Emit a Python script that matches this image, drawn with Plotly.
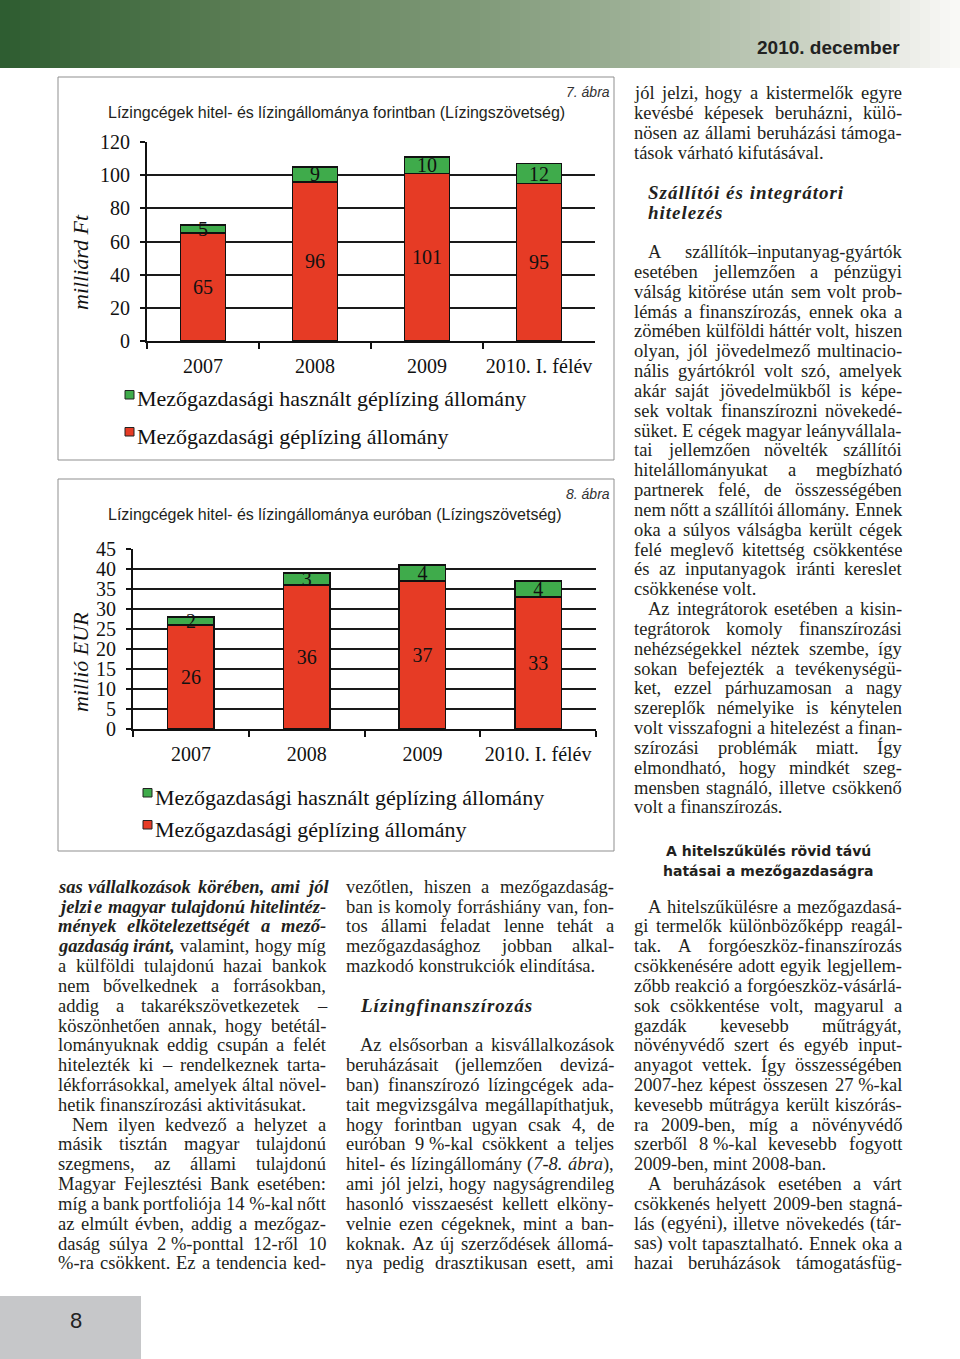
import re
import plotly.graph_objects as go

W, H = 960, 1359

# ---------------- data ----------------
categories = ["2007", "2008", "2009", "2010. I. félév"]
huf_leasing = [65, 96, 101, 95]
huf_used = [5, 9, 10, 12]
eur_leasing = [26, 36, 37, 33]
eur_used = [2, 3, 4, 4]
huf_ticks = [0, 20, 40, 60, 80, 100, 120]
eur_ticks = [0, 5, 10, 15, 20, 25, 30, 35, 40, 45]
name_used = "Mezőgazdasági használt géplízing állomány"
name_leasing = "Mezőgazdasági géplízing állomány"
title_huf = "Lízingcégek hitel- és lízingállománya forintban (Lízingszövetség)"
title_eur = "Lízingcégek hitel- és lízingállománya euróban (Lízingszövetség)"
unit_huf = "milliárd Ft"
unit_eur = "millió EUR"

RED = "#e63b25"
GREEN = "#3fab4b"
INK = "#231f20"
SERIF = "Liberation Serif"
SANS = "Liberation Sans"
FS = 18.5


def X(px):
    return px / W


def Y(py):
    return 1 - py / H


# ---------------- Times metrics (Liberation Serif is metric compatible) -----
def _tab(lower, upper=None):
    d = {}
    for ch, w in zip("abcdefghijklmnopqrstuvwxyz", lower):
        d[ch] = w
    if upper:
        for ch, w in zip("ABCDEFGHIJKLMNOPQRSTUVWXYZ", upper):
            d[ch] = w
    return d


UP = [722, 667, 667, 722, 611, 556, 722, 722, 333, 389, 722, 611, 889, 722, 722,
      556, 722, 667, 556, 611, 722, 722, 944, 722, 722, 611]
ROMAN = _tab([444, 500, 444, 500, 444, 333, 500, 500, 278, 278, 500, 278, 778, 500,
              500, 500, 500, 333, 389, 278, 500, 500, 722, 500, 500, 444], UP)
ITAL = _tab([500, 500, 444, 500, 444, 278, 500, 500, 278, 278, 444, 278, 722, 500,
             500, 500, 500, 389, 389, 278, 500, 444, 667, 444, 444, 389], UP)
BOLDI = _tab([500, 500, 444, 500, 444, 333, 500, 556, 278, 278, 500, 278, 778, 556,
              500, 500, 500, 389, 389, 278, 556, 444, 667, 500, 444, 389], UP)
PUNCT = {" ": 250, "\u00a0": 250, ",": 250, ".": 250, "-": 333, "–": 500,
         "(": 333, ")": 333, ":": 278, ";": 278, "%": 833, "!": 333, "?": 444}
ACC = str.maketrans("áéíóöőúüűÁÉÍÓÖŐÚÜŰ", "aeiooouuuAEIOOOUUU")


def text_width(word, size):
    style = BOLDI if "<b>" in word else (ITAL if "<i>" in word else ROMAN)
    plain = re.sub(r"<[^>]+>", "", word).translate(ACC)
    tot = 0
    for ch in plain:
        if ch.isdigit():
            tot += 500
        elif ch in PUNCT:
            tot += PUNCT[ch]
        else:
            tot += style.get(ch, 500)
    return tot * size / 1000


anns = []
shapes = []


def ann(text, x, y, size=FS, family=SERIF, color=INK, xanchor="left",
        yanchor="middle", angle=0):
    anns.append(dict(text=text, x=X(x), y=Y(y), xref="paper", yref="paper",
                     showarrow=False, xanchor=xanchor, yanchor=yanchor,
                     borderpad=0, borderwidth=0, textangle=angle,
                     font=dict(family=family, size=size, color=color)))


LINE0, LSTEP = 93.5, 19.83


def line_y(k):
    return LINE0 + k * LSTEP


def body_line(k, text, x0, x1, justify=True, indent=False):
    xs = x0 + (14 if indent else 0)
    y = line_y(k)
    words = text.split(" ")
    if not justify or len(words) == 1:
        ann(text, xs, y)
        return
    widths = [text_width(w, FS) for w in words]
    gap = (x1 - xs - sum(widths)) / (len(words) - 1)
    gap = max(gap, 3.0)
    x = xs
    for w, wd in zip(words, widths):
        ann(w, x, y)
        x += wd + gap


def BI(s):
    return " ".join("<b><i>%s</i></b>" % w for w in s.split(" "))


# ---------------- body text ----------------
NB = "\u00a0"
col_left = (58, 326)
col_mid = (346, 614)
col_right = (634, 902)

right_lines = [
    (0, "jól jelzi, hogy a kistermelők egyre", True, False),
    (1, "kevésbé képesek beruházni, külö-", True, False),
    (2, "nösen az állami beruházási támoga-", True, False),
    (3, "tások várható kifutásával.", False, False),
    (8, "A szállítók–inputanyag-gyártók", True, True),
    (9, "esetében jellemzően a pénzügyi", True, False),
    (10, "válság kitörése után sem volt prob-", True, False),
    (11, "lémás a finanszírozás, ennek oka a", True, False),
    (12, "zömében külföldi háttér volt, hiszen", True, False),
    (13, "olyan, jól jövedelmező multinacio-", True, False),
    (14, "nális gyártókról volt szó, amelyek", True, False),
    (15, "akár saját jövedelmükből is képe-", True, False),
    (16, "sek voltak finanszírozni növekedé-", True, False),
    (17, "süket. E cégek magyar leányvállala-", True, False),
    (18, "tai jellemzően növelték szállítói", True, False),
    (19, "hitelállományukat a megbízható", True, False),
    (20, "partnerek felé, de összességében", True, False),
    (21, "nem nőtt a szállítói állomány. Ennek", True, False),
    (22, "oka a súlyos válságba került cégek", True, False),
    (23, "felé meglevő kitettség csökkentése", True, False),
    (24, "és az inputanyagok iránti kereslet", True, False),
    (25, "csökkenése volt.", False, False),
    (26, "Az integrátorok esetében a kisin-", True, True),
    (27, "tegrátorok komoly finanszírozási", True, False),
    (28, "nehézségekkel néztek szembe, így", True, False),
    (29, "sokan befejezték a tevékenységü-", True, False),
    (30, "ket, ezzel párhuzamosan a nagy", True, False),
    (31, "szereplők némelyike is kénytelen", True, False),
    (32, "volt visszafogni a hitelezést a finan-", True, False),
    (33, "szírozási problémák miatt. Így", True, False),
    (34, "elmondható, hogy mindkét szeg-", True, False),
    (35, "mensben stagnáló, illetve csökkenő", True, False),
    (36, "volt a finanszírozás.", False, False),
    (41, "A hitelszűkülésre a mezőgazdasá-", True, True),
    (42, "gi termelők különbözőképp reagál-", True, False),
    (43, "tak. A forgóeszköz-finanszírozás", True, False),
    (44, "csökkenésére adott egyik legjellem-", True, False),
    (45, "zőbb reakció a forgóeszköz-vásárlá-", True, False),
    (46, "sok csökkentése volt, magyarul a", True, False),
    (47, "gazdák kevesebb műtrágyát,", True, False),
    (48, "növényvédő szert és egyéb input-", True, False),
    (49, "anyagot vettek. Így összességében", True, False),
    (50, "2007-hez képest összesen 27" + NB + "%-kal", True, False),
    (51, "kevesebb műtrágya került kiszórás-", True, False),
    (52, "ra 2009-ben, míg a növényvédő", True, False),
    (53, "szerből 8" + NB + "%-kal kevesebb fogyott", True, False),
    (54, "2009-ben, mint 2008-ban.", False, False),
    (55, "A beruházások esetében a várt", True, True),
    (56, "csökkenés helyett 2009-ben stagná-", True, False),
    (57, "lás (egyéni), illetve növekedés (tár-", True, False),
    (58, "sas) volt tapasztalható. Ennek oka a", True, False),
    (59, "hazai beruházások támogatásfüg-", True, False),
]

left_lines = [
    (40, BI("sas vállalkozások körében, ami jól"), True, False),
    (41, BI("jelzi e magyar tulajdonú hitelintéz-"), True, False),
    (42, BI("mények elkötelezettségét a mező-"), True, False),
    (43, BI("gazdaság iránt,") + " valamint, hogy míg", True, False),
    (44, "a külföldi tulajdonú hazai bankok", True, False),
    (45, "nem bővelkednek a forrásokban,", True, False),
    (46, "addig a takarékszövetkezetek –", True, False),
    (47, "köszönhetően annak, hogy betétál-", True, False),
    (48, "lományuknak eddig csupán a felét", True, False),
    (49, "hitelezték ki – rendelkeznek tarta-", True, False),
    (50, "lékforrásokkal, amelyek által növel-", True, False),
    (51, "hetik finanszírozási aktivitásukat.", False, False),
    (52, "Nem ilyen kedvező a helyzet a", True, True),
    (53, "másik tisztán magyar tulajdonú", True, False),
    (54, "szegmens, az állami tulajdonú", True, False),
    (55, "Magyar Fejlesztési Bank esetében:", True, False),
    (56, "míg a bank portfoliója 14" + NB + "%-kal nőtt", True, False),
    (57, "az elmúlt évben, addig a mezőgaz-", True, False),
    (58, "daság súlya 2" + NB + "%-ponttal 12-ről 10", True, False),
    (59, "%-ra csökkent. Ez a tendencia ked-", True, False),
]

mid_lines = [
    (40, "vezőtlen, hiszen a mezőgazdaság-", True, False),
    (41, "ban is komoly forráshiány van, fon-", True, False),
    (42, "tos állami feladat lenne tehát a", True, False),
    (43, "mezőgazdasághoz jobban alkal-", True, False),
    (44, "mazkodó konstrukciók elindítása.", False, False),
    (48, "Az elsősorban a kisvállalkozások", True, True),
    (49, "beruházásait (jellemzően devizá-", True, False),
    (50, "ban) finanszírozó lízingcégek ada-", True, False),
    (51, "tait megvizsgálva megállapíthatjuk,", True, False),
    (52, "hogy forintban ugyan csak 4, de", True, False),
    (53, "euróban 9" + NB + "%-kal csökkent a teljes", True, False),
    (54, "hitel- és lízingállomány (<i>7-8.</i> <i>ábra</i>),", True, False),
    (55, "ami jól jelzi, hogy nagyságrendileg", True, False),
    (56, "hasonló visszaesést kellett elköny-", True, False),
    (57, "velnie ezen cégeknek, mint a ban-", True, False),
    (58, "koknak. Az új szerződések állomá-", True, False),
    (59, "nya pedig drasztikusan esett, ami", True, False),
]

for lines, (x0, x1) in ((right_lines, col_right), (left_lines, col_left),
                        (mid_lines, col_mid)):
    for k, t, j, ind in lines:
        body_line(k, t, x0, x1, j, ind)

# headings
SP = '<span style="letter-spacing:1px">%s</span>'
ann("<b><i>" + SP % "Szállítói és integrátori" + "</i></b>", 648, line_y(5), size=19)
ann("<b><i>" + SP % "hitelezés" + "</i></b>", 648, line_y(6), size=19)
ann("<b><i>" + SP % "Lízingfinanszírozás" + "</i></b>", 360, line_y(46), size=19)
ann("<b>A hitelszűkülés rövid távú</b>", 768, 851, size=14, family="DejaVu Sans",
    xanchor="center")
ann("<b>hatásai a mezőgazdaságra</b>", 768, 871, size=14, family="DejaVu Sans",
    xanchor="center")

# ---------------- page furniture ----------------
stops = [(0.0, (45, 92, 48)), (0.25, (92, 126, 85)), (0.5, (128, 154, 121)),
         (0.7, (165, 182, 158)), (0.85, (205, 212, 198)), (0.95, (236, 237, 232)),
         (1.0, (250, 250, 248))]


def grad(t):
    for (t0, c0), (t1, c1) in zip(stops[:-1], stops[1:]):
        if t0 <= t <= t1:
            f = (t - t0) / (t1 - t0)
            return "rgb(%d,%d,%d)" % tuple(round(a + (b - a) * f) for a, b in zip(c0, c1))
    return "rgb(250,250,248)"


NSTRIP = 96
for i in range(NSTRIP):
    x0 = i * W / NSTRIP
    shapes.append(dict(type="rect", xref="paper", yref="paper", layer="below",
                       x0=X(x0), x1=X(x0 + W / NSTRIP + 0.6), y0=Y(68), y1=Y(0),
                       line=dict(width=0), fillcolor=grad((i + 0.5) / NSTRIP)))
ann("<b>2010. december</b>", 900, 48, size=19, family=SANS, color="#222",
    xanchor="right")

shapes.append(dict(type="rect", xref="paper", yref="paper", layer="below",
                   x0=X(0), x1=X(141), y0=Y(1359), y1=Y(1296),
                   line=dict(width=0), fillcolor="#c6c7c9"))
ann("8", 76, 1320, size=22, family=SANS, color="#222", xanchor="center")

# chart frames
for (fx0, fy0, fx1, fy1) in ((58, 77, 614, 460), (58, 479, 614, 851)):
    shapes.append(dict(type="rect", xref="paper", yref="paper", layer="below",
                       x0=X(fx0), x1=X(fx1), y0=Y(fy1), y1=Y(fy0),
                       line=dict(color="#8f8f8f", width=1), fillcolor="white"))

# chart captions / titles / units
ann("<i>7. ábra</i>", 610, 92, size=14, family=SANS, color="#333", xanchor="right")
ann("<i>8. ábra</i>", 610, 494, size=14, family=SANS, color="#333", xanchor="right")
ann(title_huf, 336, 112, size=16, family=SANS, color=INK, xanchor="center")
ann(title_eur, 335, 514, size=16, family=SANS, color=INK, xanchor="center")
ann("<i>%s</i>" % unit_huf, 80, 262, size=22, family=SERIF, color="#111",
    xanchor="center", angle=-90)
ann("<i>%s</i>" % unit_eur, 80, 662, size=22, family=SERIF, color="#111",
    xanchor="center", angle=-90)

# legends (manual, one per chart)
for (mx, tx, ys) in ((125, 137, (400, 437)), (143, 155, (798, 830))):
    for yy, col, nm in ((ys[0], GREEN, name_used), (ys[1], RED, name_leasing)):
        shapes.append(dict(type="rect", xref="paper", yref="paper",
                           x0=X(mx), x1=X(mx + 9), y0=Y(yy - 1), y1=Y(yy - 9.5),
                           line=dict(color="#222", width=1), fillcolor=col))
        ann(nm, tx, yy - 1, size=22, family=SERIF, color="#111")

# ---------------- charts ----------------
fig = go.Figure()


def add_bars(xa, ya, base_vals, top_vals):
    for vals, col, nm in ((base_vals, RED, name_leasing), (top_vals, GREEN, name_used)):
        fig.add_trace(go.Bar(
            x=categories, y=vals, name=nm, xaxis=xa, yaxis=ya, width=0.4,
            marker=dict(color=col, line=dict(color="#111", width=1.5)),
            text=[str(v) for v in vals], textposition="inside",
            insidetextanchor="middle", textangle=0, constraintext="none",
            insidetextfont=dict(family=SERIF, size=20, color="#111"),
            showlegend=False, hoverinfo="skip", cliponaxis=False))


add_bars("x", "y", huf_leasing, huf_used)
add_bars("x2", "y2", eur_leasing, eur_used)

xcommon = dict(type="category", tickson="boundaries", ticks="outside", ticklen=6,
               tickwidth=2, tickcolor="#111", showline=True, linewidth=2,
               linecolor="#111", showgrid=False, zeroline=False, fixedrange=True,
               tickangle=0, automargin=False,
               tickfont=dict(family=SERIF, size=20, color="#111"),
               ticklabelstandoff=6)
ycommon = dict(ticks="outside", ticklen=5, tickwidth=2, tickcolor="#111",
               showline=True, linewidth=2, linecolor="#111", showgrid=True,
               gridcolor="#1a1a1a", gridwidth=2, zeroline=False, fixedrange=True,
               automargin=False,
               tickfont=dict(family=SERIF, size=20, color="#111"),
               ticklabelstandoff=6)

fig.update_layout(
    width=W, height=H,
    margin=dict(l=0, r=0, t=0, b=0, pad=0, autoexpand=False),
    paper_bgcolor="white", plot_bgcolor="rgba(0,0,0,0)",
    barmode="stack", showlegend=False,
    xaxis=dict(domain=[X(147), X(595)], anchor="y", **xcommon),
    yaxis=dict(domain=[Y(341), Y(142)], anchor="x", range=[0, 120],
               tickvals=huf_ticks, **ycommon),
    xaxis2=dict(domain=[X(133), X(596)], anchor="y2", **xcommon),
    yaxis2=dict(domain=[Y(729), Y(549)], anchor="x2", range=[0, 45],
                tickvals=eur_ticks, **ycommon),
    annotations=anns, shapes=shapes,
)

PAGE_JS = (
    "var s=document.documentElement.style;s.margin='0';s.padding='0';s.overflow='hidden';"
    "var b=document.body.style;b.margin='0';b.padding='0';b.overflow='hidden';"
    "var d=document.getElementById('{plot_id}');"
    "d.style.position='fixed';d.style.top='0px';d.style.left='0px';"
)

fig.write_html("out.html", config={"displayModeBar": False}, post_script=PAGE_JS)
